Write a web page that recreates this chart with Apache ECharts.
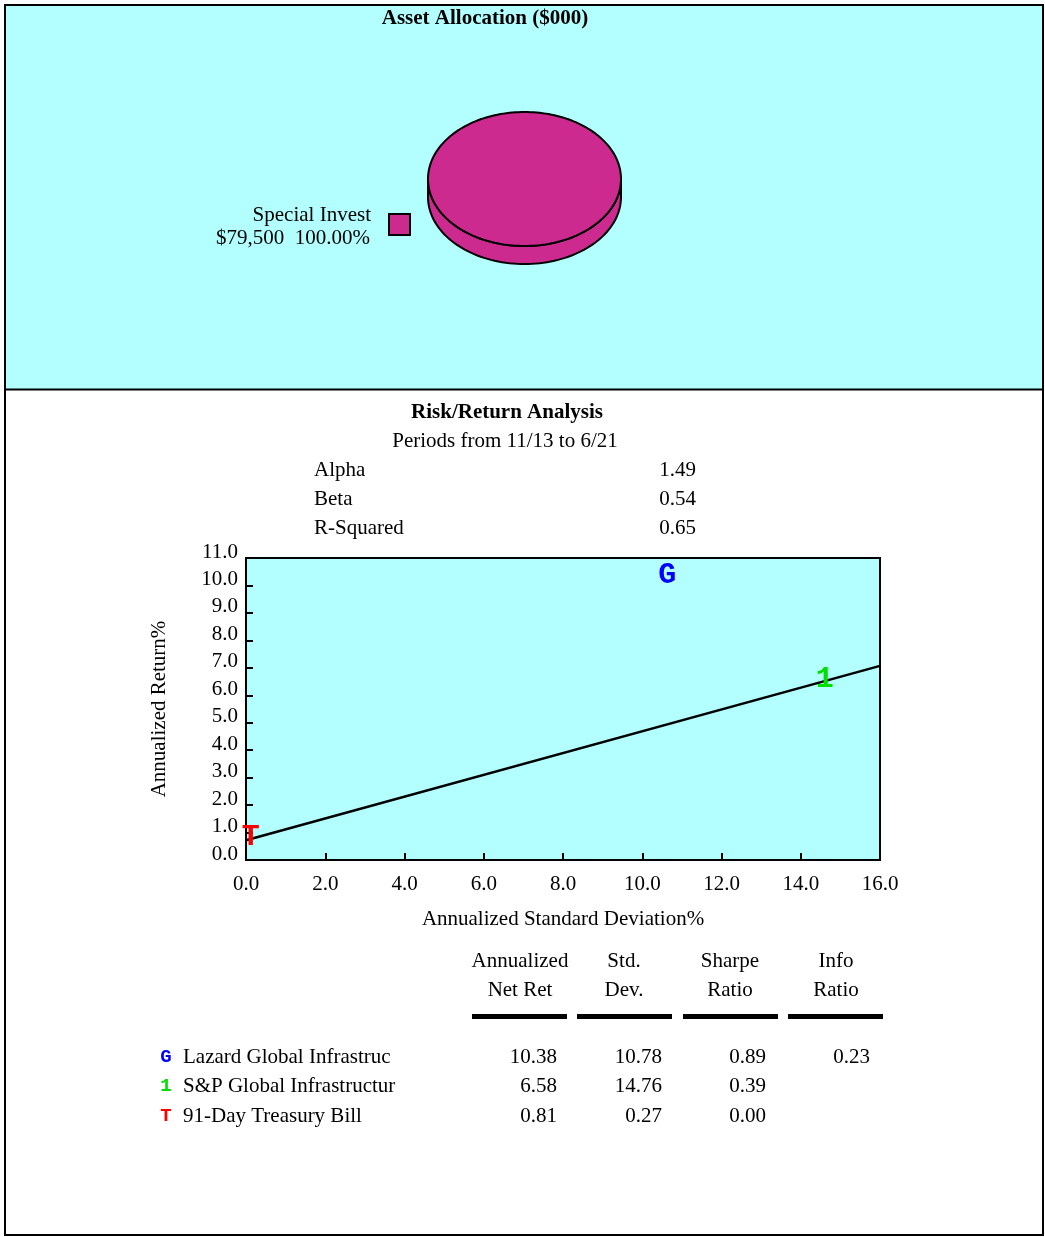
<!DOCTYPE html>
<html>
<head>
<meta charset="utf-8">
<script src="https://cdn.jsdelivr.net/npm/echarts@6/dist/echarts.min.js"></script>
<style>
html,body{margin:0;padding:0;background:#fff;}
#chart{width:1045px;height:1237px;}
</style>
</head>
<body>
<div id="chart"></div>
<script>
// ---- data ----
const allocNames = ['Special Invest'];
const allocValues = [79500];            // $000
const allocPctLabels = ['100.00%'];
const statLabels = ['Alpha', 'Beta', 'R-Squared'];
const statValues = ['1.49', '0.54', '0.65'];
const managerNames = ['Lazard Global Infrastruc', 'S&P Global Infrastructur', '91-Day Treasury Bill'];
const managerMarkers = ['G', '1', 'T'];
const netRet = [10.38, 6.58, 0.81];
const stdDev = [10.78, 14.76, 0.27];
const sharpe = [0.89, 0.39, 0.00];
const infoRatio = [0.23, null, null];
const marketLine = [[0, 0.72], [16, 7.07]];
const headerTop = ['Annualized', 'Std.', 'Sharpe', 'Info'];
const headerBottom = ['Net Ret', 'Dev.', 'Ratio', 'Ratio'];

// ---- style ----
const CYAN = '#b3ffff';
const MAGENTA = '#cc2a8f';
const markerColors = ['#0000ff', '#00e000', '#ff0000'];
const SERIF = 'Liberation Serif, Times New Roman, serif';
const MONO = 'Liberation Mono, Courier New, monospace';
const pieColors = [MAGENTA];
const FS = 21;

const chart = echarts.init(document.getElementById('chart'), null, {renderer: 'canvas'});

function txt(text, x, y, opts) {
  opts = opts || {};
  return {
    type: 'text', x: x, y: y, z: 20,
    style: {
      text: text, fill: opts.fill || '#000',
      font: (opts.bold ? 'bold ' : '') + (opts.size || FS) + 'px ' + (opts.family || SERIF),
      textAlign: opts.align || 'left', textVerticalAlign: 'middle'
    }
  };
}

const graphics = [];
// frame & panels
graphics.push({type: 'rect', z: -20, shape: {x: 5, y: 5, width: 1038, height: 1230}, style: {fill: '#fff', stroke: '#000', lineWidth: 2}});
graphics.push({type: 'rect', z: -19, shape: {x: 6, y: 6, width: 1036, height: 383}, style: {fill: CYAN}});
graphics.push({type: 'line', z: -18, shape: {x1: 5, y1: 389.5, x2: 1043, y2: 389.5}, style: {stroke: '#000', lineWidth: 2}});

graphics.push(txt('Asset Allocation ($000)', 485, 19, {bold: true, size: 21, align: 'center'}));

// legend for allocation
allocNames.forEach(function (n, i) {
  const y0 = 214 + i * 40;
  graphics.push({type: 'rect', z: 20, shape: {x: 389, y: y0, width: 21, height: 21}, style: {fill: pieColors[i % pieColors.length], stroke: '#000', lineWidth: 2}});
  graphics.push(txt(n, 371, y0 + 1, {align: 'right'}));
  graphics.push(txt('$' + allocValues[i].toLocaleString('en-US') + '  ' + allocPctLabels[i], 370, y0 + 24, {align: 'right'}));
});

// risk/return heading
graphics.push(txt('Risk/Return Analysis', 507, 413, {bold: true, align: 'center'}));
graphics.push(txt('Periods from 11/13 to 6/21', 505, 441, {align: 'center'}));
statLabels.forEach(function (l, i) {
  graphics.push(txt(l, 314, 470 + i * 29));
  graphics.push(txt(statValues[i], 696, 470 + i * 29, {align: 'right'}));
});

// table
const colCenters = [520, 624, 730, 836];
const colRights = [557, 662, 766, 870];
const barX = [472, 577, 683, 788];
headerTop.forEach(function (h, i) {
  graphics.push(txt(h, colCenters[i], 961, {align: 'center'}));
  graphics.push(txt(headerBottom[i], colCenters[i], 990, {align: 'center'}));
  graphics.push({type: 'rect', z: 20, shape: {x: barX[i], y: 1014, width: 95, height: 5}, style: {fill: '#000'}});
});
function fmt(v) { return v === null ? '' : v.toFixed(2); }
managerNames.forEach(function (n, i) {
  const y = 1057 + i * 29.5;
  graphics.push(txt(managerMarkers[i], 166, y, {align: 'center', bold: true, size: 19, family: MONO, fill: markerColors[i]}));
  graphics.push(txt(n, 183, y));
  [netRet[i], stdDev[i], sharpe[i], infoRatio[i]].forEach(function (v, j) {
    if (v !== null) graphics.push(txt(fmt(v), colRights[j], y, {align: 'right'}));
  });
});

// 3D pie via custom series
const pieCx = 524.5, pieCy = 179, pieRx = 96.5, pieRy = 67, pieDepth = 18;
const total = allocValues.reduce(function (a, b) { return a + b; }, 0);
function ellPt(t, dy) { return [pieCx + pieRx * Math.cos(t), pieCy + dy + pieRy * Math.sin(t)]; }
function renderPie(params, api) {
  const idx = params.dataIndex;
  let start = -Math.PI / 2;
  for (let k = 0; k < idx; k++) start += allocValues[k] / total * Math.PI * 2;
  const end = start + api.value(0) / total * Math.PI * 2;
  const color = pieColors[idx % pieColors.length];
  const children = [];
  for (let off = -2 * Math.PI; off <= 2 * Math.PI; off += 2 * Math.PI) {
    const a = Math.max(start, off), b = Math.min(end, off + Math.PI);
    if (b > a) {
      const pts = [];
      const N = 80;
      for (let s = 0; s <= N; s++) pts.push(ellPt(a + (b - a) * s / N, 0));
      for (let s = N; s >= 0; s--) pts.push(ellPt(a + (b - a) * s / N, pieDepth));
      children.push({type: 'polygon', shape: {points: pts}, style: {fill: color, stroke: '#000', lineWidth: 2}});
    }
  }
  const top = [];
  const full = (end - start) >= Math.PI * 2 - 1e-6;
  if (!full) top.push([pieCx, pieCy]);
  const M = 200;
  for (let s = 0; s <= M; s++) top.push(ellPt(start + (end - start) * s / M, 0));
  children.push({type: 'polygon', shape: {points: top}, style: {fill: color, stroke: '#000', lineWidth: 2}});
  return {type: 'group', children: children};
}

const option = {
  animation: false,
  backgroundColor: 'transparent',
  textStyle: {fontFamily: SERIF},
  grid: {left: 246, top: 558, width: 634, height: 302, show: true, backgroundColor: CYAN, borderColor: '#000', borderWidth: 2, containLabel: false},
  xAxis: {
    type: 'value', min: 0, max: 16, interval: 2,
    name: 'Annualized Standard Deviation%', nameLocation: 'middle', nameGap: 49,
    nameTextStyle: {fontFamily: SERIF, fontSize: FS, color: '#000'},
    axisLine: {show: true, lineStyle: {color: '#000', width: 2}},
    axisTick: {show: true, inside: true, length: 7, lineStyle: {color: '#000', width: 2}},
    axisLabel: {fontFamily: SERIF, fontSize: FS, color: '#000', margin: 14, formatter: function (v) { return v.toFixed(1); }},
    splitLine: {show: false}
  },
  yAxis: {
    type: 'value', min: 0, max: 11, interval: 1,
    name: 'Annualized Return%', nameLocation: 'middle', nameGap: 76, nameRotate: 90,
    nameTextStyle: {fontFamily: SERIF, fontSize: FS, color: '#000'},
    axisLine: {show: true, lineStyle: {color: '#000', width: 2}},
    axisTick: {show: true, inside: true, length: 7, lineStyle: {color: '#000', width: 2}},
    axisLabel: {fontFamily: SERIF, fontSize: FS, color: '#000', margin: 8, verticalAlign: 'bottom', lineHeight: 12, formatter: function (v) { return v.toFixed(1); }},
    splitLine: {show: false}
  },
  graphic: graphics,
  series: [
    {
      type: 'line', data: marketLine, symbol: 'none', z: 3,
      lineStyle: {color: '#000', width: 2.5}
    }
  ].concat(managerNames.map(function (n, i) {
    return {
      type: 'scatter', name: n, z: 50, zlevel: 1,
      data: [[stdDev[i], netRet[i]]],
      symbolSize: 1, itemStyle: {color: 'rgba(0,0,0,0)'},
      label: {show: true, position: 'inside', offset: [-6, 0], formatter: managerMarkers[i],
        fontFamily: MONO, fontWeight: 'bold', fontSize: 30, color: markerColors[i],
        textBorderWidth: 0, textBorderColor: 'transparent', opacity: 1}
    };
  })).concat([{
    type: 'custom', coordinateSystem: 'none', z: 10,
    data: allocValues.map(function (v, i) { return {name: allocNames[i], value: [v]}; }),
    renderItem: renderPie
  }])
};
chart.setOption(option);
</script>
</body>
</html>
